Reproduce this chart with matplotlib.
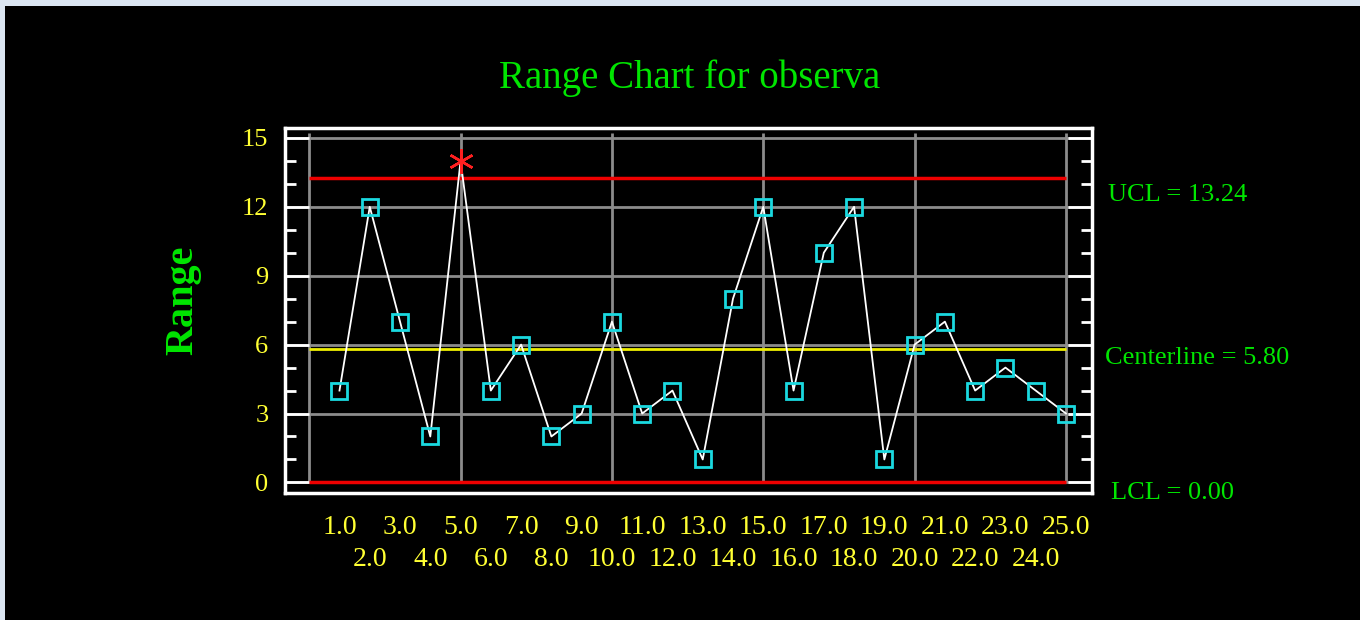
import numpy as np
import matplotlib.pyplot as plt
import matplotlib.transforms as mtransforms
from matplotlib.patches import Rectangle

# subgroup ranges
samples = np.arange(1, 26)
ranges = np.array([4, 12, 7, 2, 14, 4, 6, 2, 3, 7, 3, 4, 1, 8, 12, 4, 10, 12, 1, 6, 7, 4, 5, 4, 3])
ucl = 13.24
center = 5.80
lcl = 0.00

green = '#00e600'
yellow = '#ffff33'
cyan = '#1ad9e0'
serif = ['Liberation Serif', 'DejaVu Serif']

fig = plt.figure(figsize=(13.6, 6.2), dpi=100, facecolor='black')
# light border on top and left
border = '#dce6f2'
fig.patches.append(Rectangle((0, 1 - 6 / 620), 1, 6 / 620, transform=fig.transFigure,
                             facecolor=border, edgecolor='none'))
fig.patches.append(Rectangle((0, 0), 5 / 1360, 1, transform=fig.transFigure,
                             facecolor=border, edgecolor='none'))

ax = fig.add_axes([285 / 1360, 1 - 493 / 620, 807 / 1360, 365 / 620])
ax.set_facecolor('black')
ax.set_xlim(-0.8, 25.86)
ax.set_ylim(-0.46, 15.43)

# grid
for v in [0, 3, 6, 9, 12, 15]:
    ax.axhline(v, color='#8c8c8c', lw=2, zorder=1)
ax.vlines([0, 5, 10, 15, 20, 25], 0, 15.2, color='#8c8c8c', lw=2, zorder=1)

# control limits
ax.hlines([ucl, lcl], 0, 25, color='#ee0000', lw=2.5, zorder=2)
ax.hlines(center, 0, 25, color='#eeee00', lw=2, zorder=2)

# data
ax.plot(samples, ranges, color='white', lw=1.3, zorder=3)
inside = ranges <= ucl
ax.plot(samples[inside], ranges[inside], 's', ls='none', ms=11, mfc='none', mec=cyan, mew=2, zorder=4)
ax.plot(samples[~inside], ranges[~inside], marker=(6, 2, 0), ls='none', ms=18, mec='#ff2020', mew=1.8, zorder=4)

for s in ax.spines.values():
    s.set_color('white')
    s.set_linewidth(2.5)

ax.set_yticks([0, 3, 6, 9, 12, 15])
ax.set_yticks(np.arange(0, 16), minor=True)
ax.yaxis.set_minor_formatter(plt.NullFormatter())
ax.tick_params(axis='y', which='both', direction='in', left=True, right=True, color='white', width=2)
ax.tick_params(axis='y', which='major', length=17, labelsize=19, labelcolor=yellow, pad=12)
ax.tick_params(axis='y', which='minor', length=8)

# odd samples on the first row, even samples on the second
odd = samples[samples % 2 == 1]
even = samples[samples % 2 == 0]
ax.set_xticks(odd)
ax.set_xticklabels([f'{s:.1f}' for s in odd])
ax.set_xticks(even, minor=True)
ax.set_xticklabels([f'{s:.1f}' for s in even], minor=True)
ax.tick_params(axis='x', which='both', length=0, labelsize=20, labelcolor=yellow)
ax.tick_params(axis='x', which='major', pad=16)
ax.tick_params(axis='x', which='minor', pad=39)
for lab in ax.get_xticklabels(which='both') + ax.get_yticklabels():
    lab.set_family(serif)

fig.text(690 / 1360, 1 - 78 / 620, 'Range Chart for observa', color=green, fontsize=28,
         family=serif, ha='center', va='center')
fig.text(183 / 1360, 1 - 300 / 620, 'Range', color=green, fontsize=29, fontweight='bold',
         family=serif, rotation=90, ha='center', va='center')

trans = mtransforms.blended_transform_factory(ax.transAxes, ax.transData)
off = lambda dy: trans + mtransforms.ScaledTranslation(0, dy / 100, fig.dpi_scale_trans)
ax.text(1.0198, ucl, f'UCL = {ucl:.2f}', transform=off(-17), color=green, fontsize=19,
        family=serif, va='center', ha='left', clip_on=False)
ax.text(1.016, center, f'Centerline = {center:.2f}', transform=off(-9), color=green, fontsize=19,
        family=serif, va='center', ha='left', clip_on=False)
ax.text(1.0235, lcl, f'LCL = {lcl:.2f}', transform=off(-11), color=green, fontsize=19,
        family=serif, va='center', ha='left', clip_on=False)

fig.savefig('out.png', dpi=100, facecolor=fig.get_facecolor())
